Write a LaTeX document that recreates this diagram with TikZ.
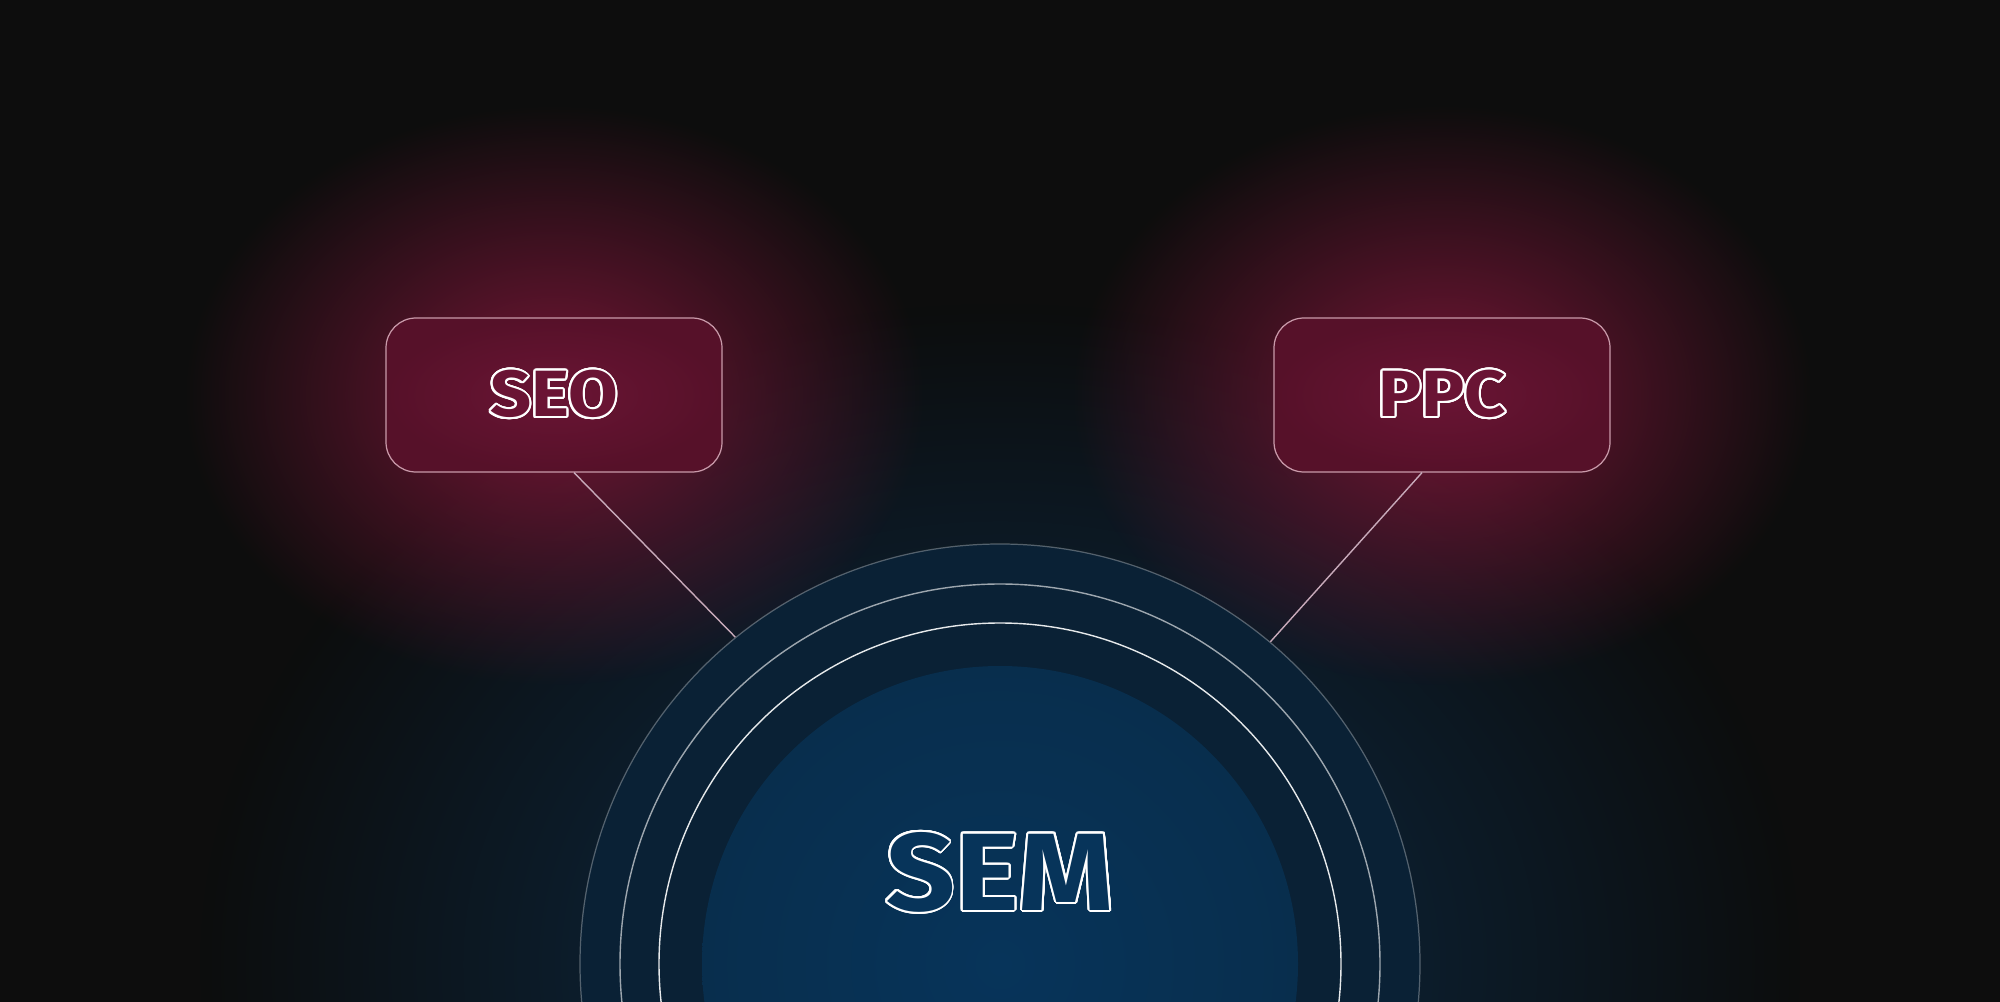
\documentclass[tikz,border=0pt]{standalone}
\usepackage{fontspec}
\newfontfamily\labelfont{Fira Sans}[FakeStretch=1.1]
\usepackage[copies]{contour}
\contournumber{32}
\usepackage{tikz}
\usetikzlibrary{calc,positioning,fadings}
\definecolor{bgdark}{HTML}{0D0D0D}
\definecolor{glowred}{HTML}{761636}
\definecolor{glowblue}{HTML}{0B2E4C}
\definecolor{boxin}{HTML}{6A1434}
\definecolor{boxout}{HTML}{561129}
\definecolor{boxline}{HTML}{C99AAA}
\definecolor{ringblue}{HTML}{0A2135}
\definecolor{corein}{HTML}{07345A}
\definecolor{coreout}{HTML}{082E4D}
\tikzfading[name=glowfade,inner color=transparent!0,outer color=transparent!100]
\newcommand{\hollow}[2]{\contourlength{0.55pt}\contour{white}{\textcolor{#1}{#2}}}
\tikzset{
  glow/.style={path fading=glowfade},
  topic/.style={draw=boxline,line width=0.35pt,rounded corners=0.3cm,
    minimum width=3.36cm,minimum height=1.54cm,inner sep=0pt,
    inner color=boxin,outer color=boxout,
    font=\labelfont\bfseries\fontsize{18.6}{20}\selectfont},
  hub/.style={circle,minimum size=8.4cm,inner sep=0pt,fill=ringblue,
    draw=white,draw opacity=0.3,line width=0.35pt},
  ring/.style={draw=white,line width=0.4pt},
  link/.style={draw={rgb,255:red,200;green,170;blue,186},line width=0.4pt},
  hublabel/.style={inner sep=0pt,font=\labelfont\bfseries\fontsize{31.3}{34}\selectfont}
}

\begin{document}
\begin{tikzpicture}
  \useasboundingbox (0,0) rectangle (20,10.01);
  \clip (-0.1,-0.1) rectangle (20.1,10.11);
  \fill[bgdark] (-0.1,-0.1) rectangle (20.1,10.11);
  % glows
  \fill[glowblue,glow] (10,0.37) ellipse (8 and 6.6);
  \fill[glowred,glow] (5.54,6.06) ellipse (3.7 and 2.9);
  \fill[glowred,glow] (14.42,6.06) ellipse (3.7 and 2.9);
  % circles
  \node[hub] (sem) at (10,0.37) {};
  \draw[ring,opacity=0.6] (sem.center) circle (3.8);
  \draw[ring,opacity=0.9] (sem.center) circle (3.41);
  \shade[inner color=corein,outer color=coreout] (sem.center) circle (2.98);
  \node[hublabel] (semlabel) at (10,1.28) {\hollow{corein}{SEM}};
  % boxes
  \node[topic,shade] (seo) at (5.54,6.06) {\hollow{boxin}{SEO}};
  \node[topic,shade] (ppc) at (14.42,6.06) {\hollow{boxin}{PPC}};
  \draw[link] ([xshift=0.2cm]seo.south) -- (sem.129.5);
  \draw[link] ([xshift=-0.2cm]ppc.south) -- (sem.50.5);
\end{tikzpicture}
\end{document}
